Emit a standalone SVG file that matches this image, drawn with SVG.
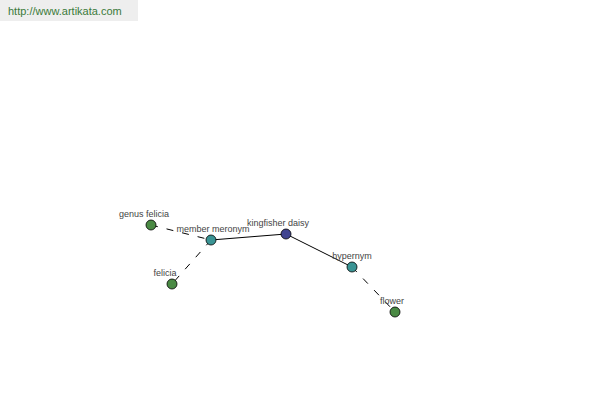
<svg xmlns="http://www.w3.org/2000/svg" width="600" height="400" viewBox="0 0 600 400">
<style>
.lbl{font-family:"Liberation Sans",Arial,sans-serif;font-size:9px;fill:#444;text-anchor:middle}
.e{stroke:#000;stroke-width:1;fill:none}
.d{stroke-dasharray:7,9}
.n{stroke:#000;stroke-width:0.8}
.g{fill:#4a8a44}
.t{fill:#3a9494}
.b{fill:#404490}
</style>
<rect x="0" y="0" width="600" height="400" fill="#fff"/>
<rect x="0" y="0" width="138" height="21" fill="#eeeeee"/>
<text x="8" y="15" style="font-family:'Liberation Sans',Arial,sans-serif;font-size:11px;fill:#3a7a3a">http://www.artikata.com</text>
<g id="connectors">
<line class="e d" x1="151" y1="225" x2="211" y2="240"/>
<line class="e d" x1="211" y1="240" x2="172" y2="284"/>
<line class="e" x1="211" y1="240" x2="286" y2="234"/>
<line class="e" x1="286" y1="234" x2="352" y2="267"/>
<line class="e d" x1="352" y1="267" x2="395" y2="312"/>
</g>
<g id="genus-felicia"><circle class="n g" cx="151" cy="225" r="5"/><text class="lbl" x="144" y="217">genus felicia</text></g>
<g id="member-meronym"><circle class="n t" cx="211" cy="240" r="5"/><text class="lbl" x="213" y="232">member meronym</text></g>
<g id="kingfisher-daisy"><circle class="n b" cx="286" cy="234" r="5"/><text class="lbl" x="278" y="226">kingfisher daisy</text></g>
<g id="felicia"><circle class="n g" cx="172" cy="284" r="5"/><text class="lbl" x="165" y="276">felicia</text></g>
<g id="hypernym"><circle class="n t" cx="352" cy="267" r="5"/><text class="lbl" x="352" y="259">hypernym</text></g>
<g id="flower"><circle class="n g" cx="395" cy="312" r="5"/><text class="lbl" x="392" y="304">flower</text></g>
</svg>
